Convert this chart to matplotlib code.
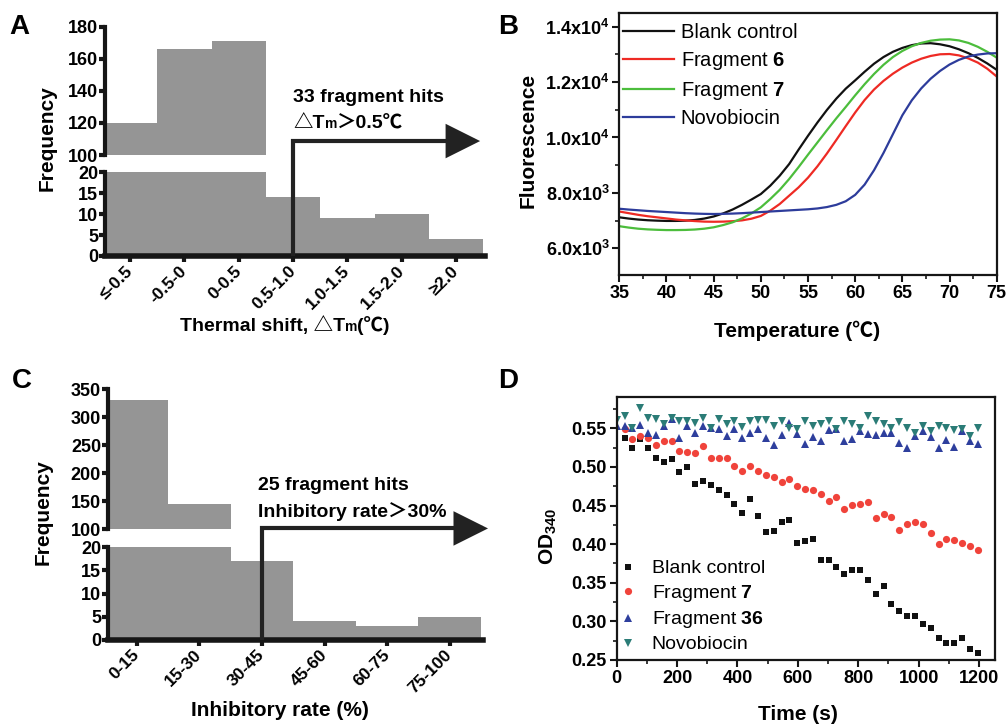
import matplotlib
matplotlib.use('Agg')
import matplotlib.pyplot as plt
from matplotlib.patches import ConnectionPatch
from matplotlib.ticker import MultipleLocator
import numpy as np

plt.rcParams['font.family'] = ['Liberation Sans', 'Noto Sans CJK SC', 'DejaVu Sans']
plt.rcParams['font.weight'] = 'bold'
plt.rcParams['mathtext.fontset'] = 'custom'
plt.rcParams['mathtext.rm'] = 'Liberation Sans'
plt.rcParams['mathtext.bf'] = 'Liberation Sans:bold'
plt.rcParams['mathtext.default'] = 'bf'

# ---------- data ----------
# A: thermal shift histogram
shift_bins = ['≤-0.5', '-0.5-0', '0-0.5', '0.5-1.0', '1.0-1.5', '1.5-2.0', '≥2.0']
shift_freq = [120, 166, 171, 14, 9, 10, 4]

# C: inhibitory rate histogram
inhib_bins = ['0-15', '15-30', '30-45', '45-60', '60-75', '75-100']
inhib_freq = [330, 145, 17, 4, 3, 5]

# B: melting curves
temp = [35, 36, 37, 38, 39, 40, 41, 42, 43, 44, 45, 46, 47, 48, 49, 50, 51, 52, 53, 54,
        55, 56, 57, 58, 59, 60, 61, 62, 63, 64, 65, 66, 67, 68, 69, 70, 71, 72, 73, 74, 75]
fluo_blank = [7120, 7075, 7040, 7015, 7000, 6990, 6990, 7000, 7025, 7075,
              7150, 7260, 7400, 7570, 7760, 7960, 8260, 8620, 9040, 9560,
              10060, 10540, 10990, 11400, 11760, 12060, 12370, 12660, 12900, 13090,
              13230, 13330, 13390, 13400, 13360, 13290, 13180, 13040, 12870, 12670,
              12440]
fluo_frag6 = [7330, 7270, 7210, 7160, 7120, 7080, 7040, 7010, 6985, 6965,
              6960, 6965, 6980, 7010, 7070, 7170, 7360, 7600, 7900, 8200,
              8550, 8960, 9420, 9910, 10410, 10900, 11350, 11730, 12040, 12300,
              12520, 12700, 12840, 12940, 13000, 13010, 12960, 12850, 12700, 12480,
              12200]
fluo_frag7 = [6800, 6750, 6710, 6685, 6670, 6660, 6660, 6665, 6680, 6710,
              6760, 6840, 6940, 7080, 7260, 7480, 7780, 8110, 8500, 8930,
              9380, 9820, 10260, 10690, 11100, 11520, 11920, 12290, 12620, 12900,
              13120, 13290, 13410, 13490, 13530, 13540, 13500, 13410, 13270, 13090,
              12880]
fluo_novo = [7430, 7400, 7375, 7350, 7330, 7310, 7290, 7270, 7255, 7245,
             7240, 7245, 7255, 7270, 7290, 7310, 7330, 7350, 7370, 7390,
             7410, 7440, 7490, 7570, 7700, 7930, 8300, 8820, 9440, 10120,
             10800, 11340, 11770, 12120, 12400, 12630, 12800, 12920, 12990, 13030,
             13040]

# D: NADH consumption
time_s = [0, 26, 52, 78, 104, 130, 156, 182, 208, 234, 260, 286, 312, 338, 364, 390,
          416, 442, 468, 494, 520, 546, 572, 598, 624, 650, 676, 702, 728, 754, 780,
          806, 832, 858, 884, 910, 936, 962, 988, 1014, 1040, 1066, 1092, 1118, 1144,
          1170, 1196]
od_blank = [0.537, 0.525, 0.536, 0.525, 0.511, 0.507, 0.510, 0.493, 0.500, 0.478,
            0.482, 0.476, 0.470, 0.464, 0.452, 0.441, 0.458, 0.437, 0.416, 0.417,
            0.429, 0.431, 0.402, 0.404, 0.407, 0.380, 0.379, 0.370, 0.361, 0.367,
            0.367, 0.353, 0.335, 0.346, 0.323, 0.314, 0.307, 0.307, 0.297, 0.291,
            0.279, 0.272, 0.272, 0.278, 0.264, 0.259]
od_frag7 = [0.549, 0.536, 0.540, 0.537, 0.529, 0.534, 0.533, 0.521, 0.519, 0.518,
            0.527, 0.511, 0.511, 0.512, 0.501, 0.495, 0.501, 0.495, 0.490, 0.487,
            0.481, 0.485, 0.475, 0.471, 0.470, 0.465, 0.456, 0.461, 0.445, 0.451,
            0.452, 0.455, 0.434, 0.439, 0.435, 0.418, 0.426, 0.429, 0.426, 0.415,
            0.400, 0.407, 0.405, 0.402, 0.397, 0.392]
od_frag36 = [0.553, 0.553, 0.551, 0.554, 0.544, 0.541, 0.553, 0.562, 0.538, 0.553,
             0.544, 0.553, 0.551, 0.549, 0.540, 0.549, 0.537, 0.544, 0.549, 0.538,
             0.529, 0.541, 0.557, 0.543, 0.530, 0.539, 0.533, 0.548, 0.549, 0.533,
             0.536, 0.546, 0.543, 0.541, 0.544, 0.544, 0.531, 0.525, 0.540, 0.547,
             0.539, 0.525, 0.535, 0.526, 0.547, 0.534, 0.530]
od_novo = [0.561, 0.566, 0.551, 0.577, 0.564, 0.562, 0.556, 0.564, 0.560, 0.559,
           0.557, 0.563, 0.551, 0.562, 0.556, 0.560, 0.552, 0.560, 0.561, 0.561,
           0.553, 0.560, 0.551, 0.549, 0.559, 0.553, 0.556, 0.560, 0.549, 0.559,
           0.556, 0.551, 0.566, 0.559, 0.556, 0.551, 0.558, 0.551, 0.544, 0.553,
           0.546, 0.553, 0.550, 0.548, 0.549, 0.540, 0.550]

GRAY = '#959595'
INK = '#161616'
W, H = 1008, 724


def rect(left, top, right, bottom):
    # pixel box -> figure fraction
    return [left / W, 1 - bottom / H, (right - left) / W, (bottom - top) / H]


def broken_hist(r_hi, r_lo, cats, freq, hi_ticks, lo_ticks, xlim):
    ax_hi = fig.add_axes(r_hi)
    ax_lo = fig.add_axes(r_lo)
    x = np.arange(len(cats))
    for ax in (ax_hi, ax_lo):
        ax.bar(x, freq, width=1.0, color=GRAY, linewidth=0)
        ax.set_xlim(*xlim)
        ax.spines['top'].set_visible(False)
        ax.spines['right'].set_visible(False)
        ax.spines['left'].set_linewidth(3)
        ax.spines['left'].set_color(INK)
        ax.tick_params(axis='y', direction='out', length=4, width=3, color=INK,
                       labelsize=13, pad=1)
    ax_hi.spines['bottom'].set_visible(False)
    ax_hi.set_xticks([])
    ax_hi.set_ylim(hi_ticks[0], hi_ticks[-1])
    ax_hi.set_yticks(hi_ticks)
    ax_lo.set_ylim(lo_ticks[0], lo_ticks[-1])
    ax_lo.set_yticks(lo_ticks)
    ax_lo.spines['bottom'].set_linewidth(4)
    ax_lo.spines['bottom'].set_color(INK)
    ax_lo.set_xticks(x)
    ax_lo.set_xticklabels(cats, rotation=45, ha='right', va='center',
                          rotation_mode='anchor')
    ax_lo.tick_params(axis='x', direction='out', length=4, width=3, color=INK,
                      labelsize=12.5, pad=5)
    return ax_hi, ax_lo


def elbow_arrow(ax_lo, ax_hi, x0, y_line, x_tip):
    con = ConnectionPatch(xyA=(x0, 0), coordsA=ax_lo.transData,
                          xyB=(x_tip, y_line), coordsB=ax_hi.transData,
                          arrowstyle='-|>,head_length=1.0,head_width=0.5',
                          connectionstyle='angle,angleA=90,angleB=0,rad=0',
                          mutation_scale=20, lw=3, color='#222222',
                          joinstyle='miter', capstyle='butt')
    fig.add_artist(con)


fig = plt.figure(figsize=(W / 100, H / 100), dpi=100)

# ---------- A ----------
axA_hi, axA_lo = broken_hist(rect(105, 26.7, 485, 155), rect(105, 172.3, 485, 256),
                             shift_bins, shift_freq, [100, 120, 140, 160, 180],
                             [0, 5, 10, 15, 20], (-0.46, 6.53))
elbow_arrow(axA_lo, axA_hi, 3, 108.7, 6.44)
axA_hi.text(3.0, 136, '33 fragment hits', fontsize=14, va='center', ha='left')
t1 = axA_hi.text(3.0, 119.5, '△T', fontsize=14, va='center', ha='left')
t2 = axA_hi.annotate('m', xy=(1, 0.1), xycoords=t1, fontsize=10, va='bottom',
                     ha='left', annotation_clip=False)
axA_hi.annotate('＞0.5℃', xy=(1, 0.5), xycoords=(t2, t1), fontsize=14,
                va='center', ha='left', annotation_clip=False)

x1 = fig.text(180 / W, 1 - 326 / H, 'Thermal shift, △T', fontsize=14,
              ha='left', va='center')
x2 = axA_lo.annotate('m', xy=(1, 0.1), xycoords=x1, fontsize=10, va='bottom',
                     ha='left', annotation_clip=False)
axA_lo.annotate('(℃)', xy=(1, 0.5), xycoords=(x2, x1), fontsize=14,
                va='center', ha='left', annotation_clip=False)
fig.text(47 / W, 1 - 138 / H, 'Frequency', rotation=90, fontsize=15,
         ha='center', va='center')

# ---------- C ----------
axC_hi, axC_lo = broken_hist(rect(108, 389.3, 483, 529), rect(108, 547.3, 483, 640),
                             inhib_bins, inhib_freq, [100, 150, 200, 250, 300, 350],
                             [0, 5, 10, 15, 20], (-0.457, 5.53))
elbow_arrow(axC_lo, axC_hi, 2, 101, 5.61)
axC_hi.text(1.94, 178, '25 fragment hits', fontsize=14, va='center', ha='left')
axC_hi.text(1.94, 131, 'Inhibitory rate＞30%', fontsize=14, va='center', ha='left')
fig.text(280 / W, 1 - 711 / H, 'Inhibitory rate (%)', fontsize=15,
         ha='center', va='center')
fig.text(43 / W, 1 - 512 / H, 'Frequency', rotation=90, fontsize=15,
         ha='center', va='center')

# ---------- B ----------
axB = fig.add_axes(rect(619.3, 12.7, 996.7, 275))
axB.plot(temp, fluo_blank, color='#111111', lw=1.6, label='Blank control')
axB.plot(temp, fluo_frag6, color='#ee2a24', lw=1.6, label=r'Fragment $\mathbf{6}$')
axB.plot(temp, fluo_frag7, color='#4cbd3c', lw=1.6, label=r'Fragment $\mathbf{7}$')
axB.plot(temp, fluo_novo, color='#2d3c9b', lw=1.6, label='Novobiocin')
axB.set_xlim(35, 75)
axB.set_ylim(5040, 14500)
axB.set_xticks([35, 40, 45, 50, 55, 60, 65, 70, 75])
axB.xaxis.set_minor_locator(MultipleLocator(2.5))
axB.set_yticks([6000, 8000, 10000, 12000, 14000])
axB.set_yticklabels(['6.0x10$^{3}$', '8.0x10$^{3}$', '1.0x10$^{4}$',
                     '1.2x10$^{4}$', '1.4x10$^{4}$'])
axB.yaxis.set_minor_locator(MultipleLocator(1000))
axB.legend(loc='upper left', bbox_to_anchor=(0.0, 0.975), frameon=False,
           prop={'size': 14.5, 'weight': 'normal'}, handlelength=2.5,
           handletextpad=0.35, labelspacing=0.38, borderaxespad=0,
           borderpad=0.2)
fig.text(797 / W, 1 - 331 / H, 'Temperature (℃)', fontsize=15, ha='center',
         va='center')
fig.text(528 / W, 1 - 140 / H, 'Fluorescence', rotation=90, fontsize=15,
         ha='center', va='center')

# ---------- D ----------
axD = fig.add_axes(rect(616.7, 396.7, 995, 660))
axD.plot(time_s[1:], od_blank, 's', color='#111111', ms=4.5, mew=0,
         label='Blank control')
axD.plot(time_s[1:], od_frag7, 'o', color='#f0433b', ms=5.2, mew=0,
         label=r'Fragment $\mathbf{7}$')
axD.plot(time_s, od_frag36, '^', color='#2e3f9d', ms=5.5, mew=0,
         label=r'Fragment $\mathbf{36}$')
axD.plot(time_s, od_novo, 'v', color='#2b7c77', ms=5.5, mew=0,
         label='Novobiocin')
axD.set_xlim(0, 1253)
axD.set_ylim(0.25, 0.591)
axD.set_xticks([0, 200, 400, 600, 800, 1000, 1200])
axD.xaxis.set_minor_locator(MultipleLocator(100))
axD.set_yticks([0.25, 0.30, 0.35, 0.40, 0.45, 0.50, 0.55])
axD.set_yticklabels(['0.25', '0.30', '0.35', '0.40', '0.45', '0.50', '0.55'])
axD.yaxis.set_minor_locator(MultipleLocator(0.025))
axD.legend(loc='upper left', bbox_to_anchor=(0.0, 0.395), frameon=False,
           prop={'size': 14, 'weight': 'normal'}, handlelength=0.8,
           handletextpad=0.8, labelspacing=0.28, borderaxespad=0, borderpad=0.2,
           numpoints=1)
fig.text(798 / W, 1 - 714 / H, 'Time (s)', fontsize=15, ha='center', va='center')
fig.text(548 / W, 1 - 536 / H, r'OD$_{\mathrm{340}}$', rotation=90, fontsize=15,
         ha='center', va='center')

for ax in (axB, axD):
    for s in ax.spines.values():
        s.set_linewidth(1.6)
        s.set_color(INK)
    ax.tick_params(which='major', direction='out', length=5, width=1.5,
                   labelsize=13, color=INK, pad=2)
    ax.tick_params(which='minor', direction='out', length=3, width=1.2, color=INK)

# panel letters
for letter, (px, py) in {'A': (9, 27), 'B': (498, 27), 'C': (12, 381), 'D': (498, 381)}.items():
    fig.text(px / W, 1 - py / H, letter, fontsize=20, ha='left', va='center')

fig.savefig('out.png', dpi=100)
